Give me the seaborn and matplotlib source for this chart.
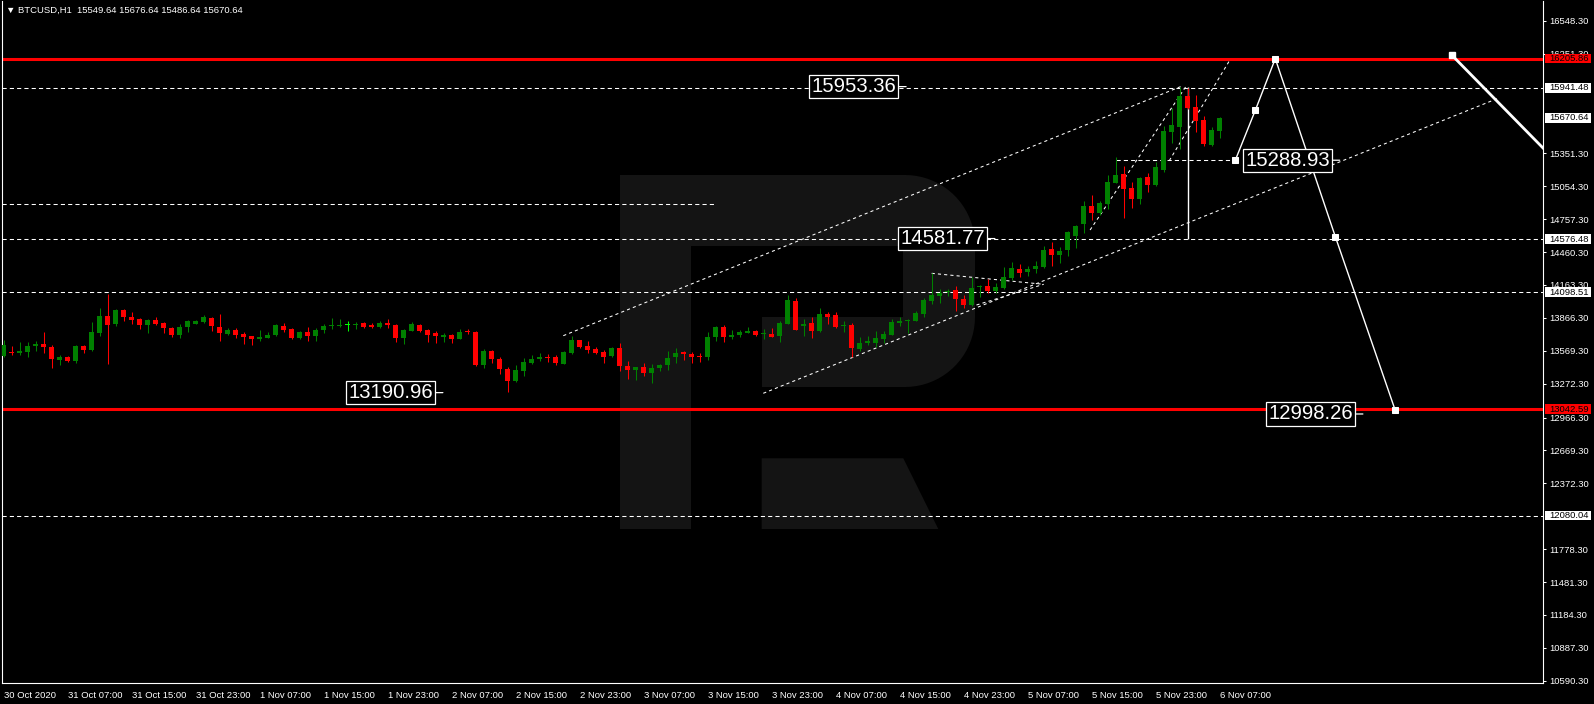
import numpy as np
import matplotlib
matplotlib.use("Agg")
import matplotlib.pyplot as plt
import seaborn as sns
from matplotlib.patches import Rectangle, Polygon

# --------------------------
# Data (BTCUSD H1, one entry per bar)
# --------------------------
opens = [13524, 13554, 13551, 13554, 13608, 13632, 13605, 13482, 13512, 13473,
         13614, 13572, 13728, 13884, 13815, 13938, 13875, 13854, 13806, 13848,
         13821, 13776, 13707, 13779, 13815, 13830, 13866, 13785, 13716, 13758,
         13716, 13698, 13671, 13686, 13707, 13794, 13764, 13680, 13734, 13698,
         13752, 13791, 13788, 13806, 13800, 13818, 13800, 13779, 13818, 13797,
         13686, 13749, 13806, 13758, 13728, 13689, 13707, 13677, 13740, 13740,
         13437, 13569, 13497, 13407, 13293, 13389, 13461, 13491, 13512, 13512,
         13452, 13545, 13668, 13614, 13581, 13560, 13518, 13593, 13434, 13392,
         13422, 13365, 13413, 13437, 13509, 13557, 13542, 13524, 13509, 13689,
         13779, 13695, 13707, 13728, 13743, 13719, 13722, 13704, 13815, 14019,
         13788, 13824, 13743, 13905, 13893, 13788, 13803, 13587, 13635, 13641,
         13677, 13713, 13821, 13842, 13842, 13902, 14022, 14067, 14100, 14118,
         14037, 13983, 14142, 14154, 14109, 14139, 14222, 14307, 14280, 14307,
         14325, 14487, 14433, 14478, 14604, 14716, 14875, 14812, 14893, 15086,
         15164, 15038, 14942, 15137, 15068, 15200, 15544, 15589, 15869, 15769,
         15652, 15426, 15549.64]
highs = [13668, 13608, 13644, 13650, 13656, 13734, 13623, 13533, 13524, 13620,
         13620, 13830, 13959, 14082, 13950, 13944, 13920, 13866, 13860, 13878,
         13827, 13782, 13815, 13851, 13851, 13896, 13872, 13905, 13770, 13773,
         13737, 13704, 13758, 13737, 13815, 13821, 13770, 13749, 13785, 13776,
         13809, 13869, 13857, 13836, 13833, 13827, 13824, 13836, 13857, 13815,
         13767, 13830, 13812, 13764, 13743, 13725, 13719, 13767, 13764, 13743,
         13587, 13578, 13509, 13422, 13443, 13506, 13533, 13551, 13542, 13530,
         13563, 13704, 13668, 13659, 13605, 13575, 13599, 13641, 13479, 13425,
         13458, 13449, 13446, 13569, 13593, 13569, 13557, 13551, 13740, 13788,
         13797, 13758, 13758, 13779, 13752, 13767, 13776, 13836, 14076, 14046,
         13860, 13875, 13956, 13920, 13917, 13842, 13821, 13695, 13698, 13749,
         13749, 13857, 13872, 13860, 13929, 14043, 14268, 14124, 14124, 14154,
         14073, 14232, 14166, 14214, 14184, 14322, 14370, 14349, 14334, 14379,
         14514, 14550, 14508, 14650, 14704, 14920, 14975, 14923, 15155, 15321,
         15236, 15095, 15140, 15173, 15273, 15595, 15757, 15953, 15945, 15878,
         15691, 15586, 15676.64]
lows = [13512, 13527, 13527, 13512, 13566, 13548, 13410, 13440, 13470, 13455,
        13548, 13569, 13704, 13446, 13788, 13842, 13809, 13761, 13725, 13800,
        13725, 13695, 13680, 13737, 13809, 13824, 13749, 13659, 13707, 13680,
        13626, 13620, 13653, 13680, 13704, 13734, 13674, 13677, 13656, 13653,
        13728, 13764, 13782, 13746, 13761, 13776, 13770, 13776, 13770, 13644,
        13626, 13743, 13740, 13650, 13635, 13644, 13638, 13671, 13719, 13428,
        13410, 13458, 13359, 13194, 13290, 13338, 13446, 13473, 13470, 13440,
        13449, 13542, 13590, 13545, 13536, 13455, 13515, 13383, 13317, 13302,
        13338, 13275, 13383, 13392, 13458, 13482, 13455, 13464, 13482, 13659,
        13650, 13674, 13695, 13725, 13704, 13677, 13695, 13650, 13809, 13758,
        13698, 13680, 13740, 13812, 13770, 13734, 13515, 13566, 13623, 13599,
        13635, 13710, 13788, 13728, 13836, 13875, 13992, 14004, 14067, 13932,
        13956, 13974, 14058, 14088, 14094, 14130, 14205, 14237, 14243, 14273,
        14313, 14337, 14364, 14427, 14499, 14634, 14749, 14794, 14845, 15083,
        14764, 14860, 14896, 15005, 15059, 15179, 15447, 15393, 15751, 15547,
        15420, 15420, 15486.64]
closes = [13623, 13548, 13563, 13614, 13632, 13599, 13491, 13515, 13473, 13614,
          13572, 13734, 13884, 13806, 13938, 13872, 13851, 13806, 13848, 13815,
          13770, 13707, 13785, 13839, 13842, 13872, 13788, 13725, 13758, 13710,
          13692, 13671, 13695, 13713, 13797, 13752, 13680, 13734, 13698, 13758,
          13794, 13797, 13806, 13806, 13815, 13782, 13782, 13818, 13803, 13686,
          13758, 13809, 13749, 13713, 13698, 13710, 13677, 13740, 13734, 13440,
          13569, 13494, 13407, 13293, 13398, 13470, 13497, 13515, 13506, 13455,
          13560, 13668, 13599, 13572, 13545, 13515, 13593, 13428, 13392, 13422,
          13368, 13416, 13443, 13506, 13551, 13539, 13515, 13509, 13695, 13779,
          13695, 13713, 13734, 13743, 13707, 13725, 13695, 13824, 14028, 13758,
          13815, 13743, 13902, 13878, 13785, 13806, 13590, 13641, 13656, 13686,
          13722, 13833, 13842, 13848, 13914, 14028, 14073, 14094, 14106, 14034,
          13983, 14139, 14157, 14109, 14148, 14232, 14313, 14273, 14307, 14334,
          14478, 14433, 14469, 14640, 14698, 14875, 14815, 14902, 15092, 15155,
          15032, 14942, 15128, 15065, 15227, 15553, 15607, 15869, 15757, 15646,
          15438, 15562, 15670.64]

time_labels = ["30 Oct 2020", "31 Oct 07:00", "31 Oct 15:00", "31 Oct 23:00",
               "1 Nov 07:00", "1 Nov 15:00", "1 Nov 23:00", "2 Nov 07:00",
               "2 Nov 15:00", "2 Nov 23:00", "3 Nov 07:00", "3 Nov 15:00",
               "3 Nov 23:00", "4 Nov 07:00", "4 Nov 15:00", "4 Nov 23:00",
               "5 Nov 07:00", "5 Nov 15:00", "5 Nov 23:00", "6 Nov 07:00"]
label_every = 8

price_ticks = [16548.30, 16251.30, 15351.30, 15054.30, 14757.30, 14460.30,
               14163.30, 13866.30, 13569.30, 13272.30, 12966.30, 12669.30,
               12372.30, 11778.30, 11481.30, 11184.30, 10887.30, 10590.30]

# horizontal levels
red_levels = [16205.86, 13042.59]
dashed_levels = [15941.48, 14576.48, 14098.51, 12080.04]
short_level = 14891.0          # dashed segment on the left
short_level_end = 89

# price boxes on the right scale
axis_boxes = [("16205.86", "#ff0000"), ("15941.48", "white"), ("15670.64", "white"),
              ("14576.48", "white"), ("14098.51", "white"), ("13042.59", "#ff0000"),
              ("12080.04", "white")]

# big price labels: (text, bar position of the anchor)
price_labels = [("15953.36", 112.8), ("14581.77", 123.9), ("13190.96", 54.9),
                ("15288.93", 167.0), ("12998.26", 169.9)]

# trend channel and patterns (bar, price)
upper_channel = ([69.95, 147.45], [13705, 15963])
lower_channel = ([94.95, 186.8], [13185, 15848])
triangle_top = ([116, 130], [14268, 14169])
triangle_bottom = ([121.6, 130], [13982, 14169])
steep_line = ([135.8, 147.9], [14659, 15968])
flag_line = ([145.7, 153.2], [15285, 16185])
flag_level = (15295, 139, 154)
spike_line = (148, 14581.77, 15953.36)

# forecast path
forecast_x = [153.95, 156.45, 158.95, 166.45, 173.95]
forecast_y = [15289, 15739, 16205.86, 14600, 13030]
down_line_x = [181.0, 200.0]
down_line_y = [16239, 14841]

header = "\u25bc BTCUSD,H1  15549.64 15676.64 15486.64 15670.64"

# --------------------------
# Style
# --------------------------
sns.set_style("dark", {"axes.facecolor": "black", "figure.facecolor": "black"})
plt.rcParams["font.family"] = ["Liberation Sans", "DejaVu Sans"]

W, H = 1594, 704
fig = plt.figure(figsize=(W / 100, H / 100), dpi=100, facecolor="black")

# watermark logo behind the chart (pixel space)
bg = fig.add_axes([0, 0, 1, 1], zorder=0)
bg.set_xlim(0, W)
bg.set_ylim(H, 0)
bg.axis("off")
wm = "#141414"
bg.add_patch(Rectangle((620, 175), 71, 354, color=wm, lw=0))
bg.add_patch(Rectangle((690, 175), 216, 71, color=wm, lw=0))
bg.add_patch(Rectangle((761.7, 317), 144, 70, color=wm, lw=0))
t1 = np.linspace(np.pi / 2, 0, 20)
t2 = np.linspace(0, -np.pi / 2, 20)
d_pts = [(903, 175)] + [(905 + 70 * np.cos(t), 245 - 70 * np.sin(t)) for t in t1] \
    + [(905 + 70 * np.cos(t), 317 - 70 * np.sin(t)) for t in t2] + [(903, 387)]
bg.add_patch(Polygon(d_pts, closed=True, color=wm, lw=0))
bg.add_patch(Polygon([(761.7, 458.3), (903.3, 458.3), (938.3, 529), (761.7, 529)],
                     closed=True, color=wm, lw=0))

ax = fig.add_axes([2 / W, (H - 683.3) / H, 1541.3 / W, 682.3 / H], zorder=1)
ax.set_facecolor("none")
ax.set_xlim(-0.21, 192.45)
ax.set_ylim(10567.2, 16726.2)

# --------------------------
# Levels and drawn objects
# --------------------------
dash = (0, (4, 3))
for p in dashed_levels:
    ax.axhline(p, color="white", lw=0.75, ls=dash, zorder=2)
ax.hlines(short_level, -0.21, short_level_end, color="white", lw=0.75, ls=dash, zorder=2)
for p in red_levels:
    ax.axhline(p, color="#ff0000", lw=2.2, zorder=2)

dot = (0, (3, 3))
for xs, ys in [upper_channel, lower_channel, triangle_top, triangle_bottom,
               steep_line, flag_line]:
    ax.plot(xs, ys, color="white", lw=0.75, ls=dot, zorder=3)
ax.hlines(flag_level[0], flag_level[1], flag_level[2], color="white", lw=0.75,
          ls=dash, zorder=3)
ax.vlines(spike_line[0], spike_line[1], spike_line[2], color="white", lw=1.0, zorder=3)

# --------------------------
# Candles
# --------------------------
o = np.array(opens)
c = np.array(closes)
idx = np.arange(len(o))
colors = np.where(c > o, "#008000", np.where(c < o, "#ff0000", "#00ff00"))
ax.vlines(idx, lows, highs, colors=colors, lw=0.75, zorder=4)
body_h = np.maximum(np.abs(c - o), 9)
ax.bar(idx, body_h, bottom=np.minimum(o, c), width=0.625, color=colors,
       linewidth=0, zorder=4)

# forecast path
sns.lineplot(x=forecast_x, y=forecast_y, sort=False, color="white", lw=1.0,
             marker="s", markersize=4, markeredgecolor="white", ax=ax, zorder=5)
ax.plot(down_line_x, down_line_y, color="white", lw=2.0, zorder=5)
ax.plot(down_line_x[0], down_line_y[0], marker="s", color="white", ms=4, zorder=5)

# big price labels
for txt, bx in price_labels:
    ax.annotate(txt, xy=(bx, float(txt)), xytext=(-7.2, 0), textcoords="offset points",
                ha="right", va="center", fontsize=14.6, color="white",
                bbox=dict(boxstyle="square,pad=0.1", fc="black", ec="white", lw=0.9),
                arrowprops=dict(arrowstyle="-", color="white", lw=0.9,
                                shrinkA=0, shrinkB=0), zorder=6)

# --------------------------
# Axes
# --------------------------
ax.grid(False)
for s in ["left", "bottom", "right"]:
    ax.spines[s].set_color("white")
    ax.spines[s].set_linewidth(0.8)
ax.spines["top"].set_visible(False)

ax.yaxis.tick_right()
ax.set_yticks(price_ticks)
ax.set_yticklabels([f"{v:.2f}" for v in price_ticks])
ax.set_xticks(np.arange(len(time_labels)) * label_every)
ax.set_xticklabels(time_labels, ha="left")
ax.tick_params(axis="both", colors="white", labelcolor="white", length=2.5,
               width=0.75, labelsize=6.8, pad=2)
ax.tick_params(axis="x", pad=3)

ytr = ax.get_yaxis_transform()
for txt, fc in axis_boxes:
    p = float(txt)
    ax.add_patch(Rectangle((1.0011, p - 42.4), 0.0299, 84.8, transform=ytr,
                           fc=fc, ec="none", clip_on=False, zorder=7))
    ax.text(1.0037, p, txt, transform=ytr, ha="left", va="center", fontsize=6.8,
            color="black", clip_on=False, zorder=8)

fig.text(6 / W, 1 - 10 / H, header, color="white", fontsize=6.8, va="center")

fig.savefig("out.png", dpi=100, facecolor="black")
